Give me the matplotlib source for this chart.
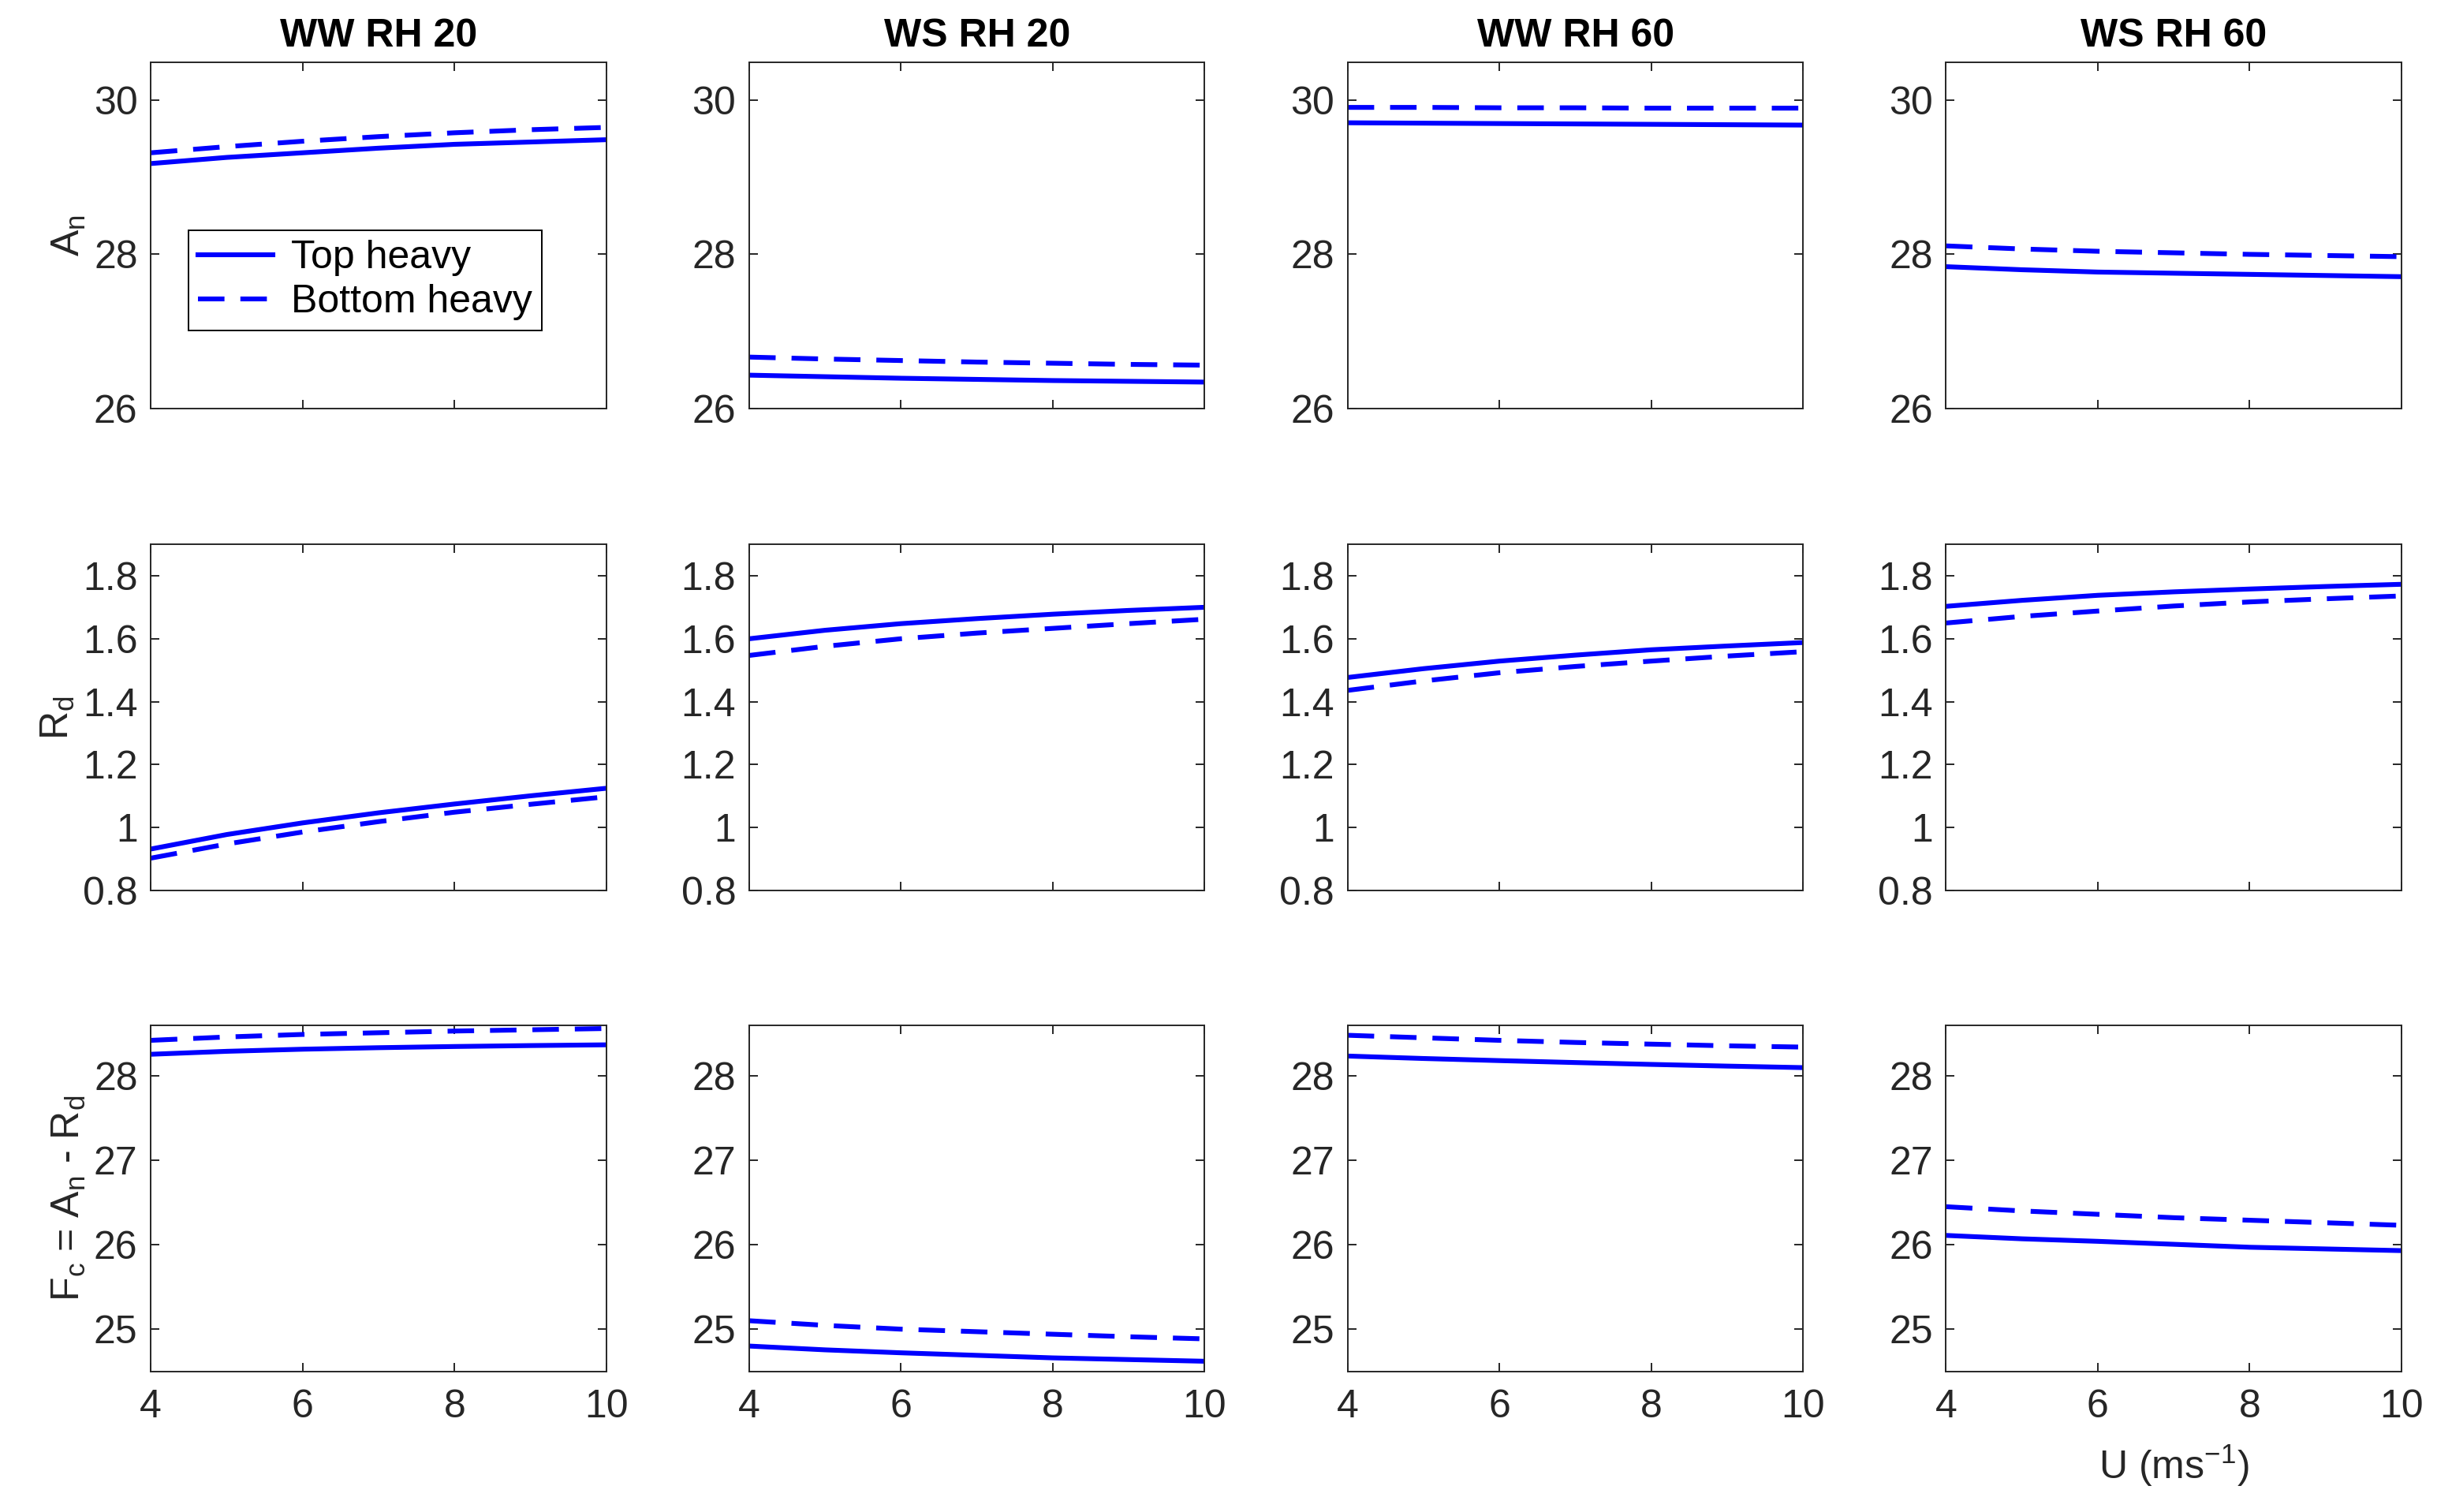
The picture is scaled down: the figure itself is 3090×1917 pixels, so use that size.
import matplotlib
matplotlib.use('Agg')
import matplotlib.pyplot as plt
from matplotlib.ticker import FormatStrFormatter

plt.rcParams['font.family'] = ['Liberation Sans', 'DejaVu Sans']
plt.rcParams['mathtext.fontset'] = 'custom'
plt.rcParams['mathtext.rm'] = 'Liberation Sans'

# wind speed (m/s)
u = [4, 5, 6, 7, 8, 9, 10]

cases = ['WW RH 20', 'WS RH 20', 'WW RH 60', 'WS RH 60']

# net assimilation, top heavy / bottom heavy
an_top = [
    [29.18, 29.26, 29.32, 29.38, 29.43, 29.46, 29.49],
    [26.43, 26.41, 26.39, 26.375, 26.36, 26.35, 26.34],
    [29.71, 29.705, 29.70, 29.695, 29.69, 29.685, 29.68],
    [27.84, 27.80, 27.77, 27.755, 27.74, 27.725, 27.71],
]
an_bot = [
    [29.32, 29.40, 29.47, 29.53, 29.58, 29.62, 29.65],
    [26.665, 26.64, 26.62, 26.60, 26.585, 26.57, 26.56],
    [29.91, 29.91, 29.905, 29.905, 29.90, 29.90, 29.90],
    [28.11, 28.07, 28.04, 28.02, 28.00, 27.985, 27.97],
]

# dark respiration
rd_top = [
    [0.932, 0.978, 1.015, 1.047, 1.075, 1.101, 1.125],
    [1.600, 1.627, 1.648, 1.664, 1.678, 1.690, 1.700],
    [1.477, 1.505, 1.529, 1.548, 1.565, 1.577, 1.588],
    [1.703, 1.722, 1.738, 1.749, 1.758, 1.766, 1.773],
]
rd_bot = [
    [0.903, 0.948, 0.986, 1.019, 1.049, 1.074, 1.098],
    [1.547, 1.576, 1.600, 1.618, 1.633, 1.648, 1.662],
    [1.436, 1.466, 1.492, 1.512, 1.529, 1.545, 1.559],
    [1.650, 1.671, 1.688, 1.704, 1.717, 1.727, 1.736],
]

# net carbon flux
fc_top = [
    [28.255, 28.29, 28.315, 28.333, 28.347, 28.358, 28.367],
    [24.80, 24.755, 24.72, 24.69, 24.66, 24.64, 24.62],
    [28.234, 28.205, 28.18, 28.157, 28.135, 28.115, 28.097],
    [26.11, 26.07, 26.04, 26.005, 25.97, 25.95, 25.93],
]
fc_bot = [
    [28.42, 28.46, 28.49, 28.51, 28.53, 28.545, 28.56],
    [25.10, 25.045, 25.00, 24.97, 24.94, 24.91, 24.885],
    [28.48, 28.45, 28.42, 28.395, 28.375, 28.355, 28.34],
    [26.45, 26.40, 26.36, 26.32, 26.29, 26.26, 26.23],
]

rows = [
    (an_top, an_bot, r'A$_\mathregular{n}$', (26, 30.5), [26, 28, 30]),
    (rd_top, rd_bot, r'R$_\mathregular{d}$', (0.8, 1.9), [0.8, 1.0, 1.2, 1.4, 1.6, 1.8]),
    (fc_top, fc_bot, r'F$_\mathregular{c}$ = A$_\mathregular{n}$ - R$_\mathregular{d}$',
     (24.5, 28.6), [25, 26, 27, 28]),
]

fs = 18
axcol = '#262626'
fig = plt.figure(figsize=(15.45, 9.585), dpi=200)

lefts = [0.0619, 0.3074, 0.553, 0.7985]
bottoms = [0.730, 0.411, 0.093]
w, h = 0.1869, 0.229

for r, (top, bot, ylab, ylim, yt) in enumerate(rows):
    for c in range(4):
        ax = fig.add_axes([lefts[c], bottoms[r], w, h])
        ax.plot(u, top[c], color='#0000ff', lw=2.2, label='Top heavy')
        ax.plot(u, bot[c], color='#0000ff', lw=2.2, dashes=(5.5, 3.3), label='Bottom heavy')
        ax.set_xlim(4, 10)
        ax.set_ylim(*ylim)
        ax.set_xticks([4, 6, 8, 10])
        ax.set_yticks(yt)
        ax.yaxis.set_major_formatter(FormatStrFormatter('%g'))
        ax.tick_params(direction='in', top=True, right=True, length=4, width=0.7,
                       colors=axcol, labelsize=fs, pad=6)
        ax.tick_params(axis='x', pad=8)
        for s in ax.spines.values():
            s.set_color(axcol)
            s.set_linewidth(0.7)
        if r < 2:
            ax.set_xticklabels([])
        if r == 0:
            ax.set_title(cases[c], fontsize=fs, fontweight='bold', pad=7)
        if c == 0:
            ax.set_ylabel(ylab, fontsize=fs, color=axcol, labelpad=3)
        if r == 2 and c == 3:
            ax.set_xlabel(r'U (ms$^{-1}$)', fontsize=fs, color=axcol, labelpad=8)
        if r == 0 and c == 0:
            leg = ax.legend(loc='lower left', bbox_to_anchor=(0.082, 0.225), borderaxespad=0,
                            fontsize=fs, fancybox=False, edgecolor='black', framealpha=1,
                            handlelength=1.9, handletextpad=0.45, borderpad=0.25,
                            labelspacing=0.2)
            leg.get_frame().set_linewidth(0.7)

fig.savefig('out.png', dpi=200, facecolor='white')
